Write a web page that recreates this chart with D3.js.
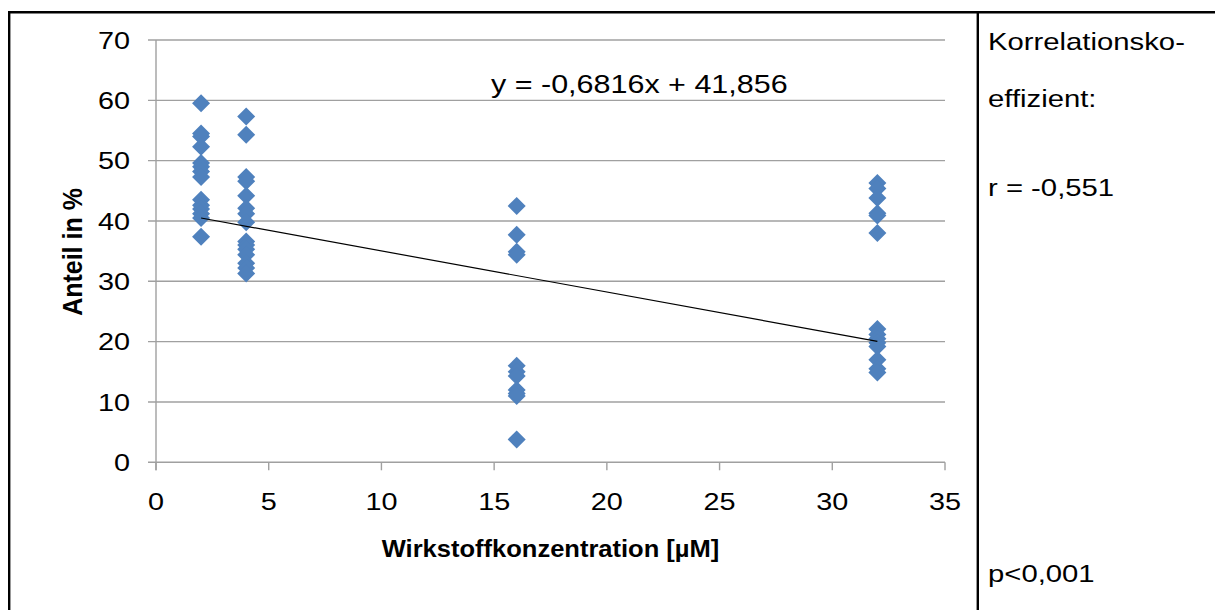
<!DOCTYPE html>
<html><head><meta charset="utf-8">
<script src="https://cdn.jsdelivr.net/npm/d3@7"></script>
<style>html,body{margin:0;padding:0;background:#fff;}svg{display:block;}</style>
</head><body>
<script>
// ---- data ----
const conc2  = [59.5, 54.5, 54.0, 52.3, 49.6, 49.0, 48.2, 47.3, 43.5, 42.6, 42.0, 41.2, 40.5, 37.4];
const conc4  = [57.3, 54.3, 47.3, 46.6, 44.2, 42.1, 41.2, 39.8, 36.6, 36.0, 35.3, 34.4, 33.0, 32.2, 31.3];
const conc16 = [42.5, 37.7, 34.9, 34.4, 16.0, 15.0, 14.3, 12.0, 11.4, 11.0, 3.8];
const conc32 = [46.3, 45.4, 43.8, 41.3, 40.9, 38.0, 22.1, 21.2, 20.5, 19.8, 19.2, 17.0, 15.5, 14.9];
const concentrations = [2, 4, 16, 32];
const xTicks = [0, 5, 10, 15, 20, 25, 30, 35];
const yTicks = [0, 10, 20, 30, 40, 50, 60, 70];
const slope = -0.6816, intercept = 41.856;
const equationLabel = "y = -0,6816x + 41,856";
const xTitle = "Wirkstoffkonzentration [µM]";
const yTitle = "Anteil in %";
const sideTexts = ["Korrelationsko-", "effizient:", "r = -0,551", "p<0,001"];

const W = 1215, H = 610;
const svg = d3.select("body").append("svg").attr("width", W).attr("height", H);
svg.append("rect").attr("width", W).attr("height", H).attr("fill", "#fff");

const x = d3.scaleLinear().domain([0, 35]).range([156, 945]);
const y = d3.scaleLinear().domain([0, 70]).range([462.3, 40]);
const FONT = "'Liberation Sans', Arial, Helvetica, sans-serif";

function txt(s, tx, ty, opts) {
  const o = Object.assign({size: 24, sx: 1.2, anchor: "start", weight: "normal", rot: 0}, opts || {});
  return svg.append("text")
    .attr("transform", `translate(${tx},${ty}) scale(${o.sx},1)` + (o.rot ? ` rotate(${o.rot})` : ""))
    .attr("text-anchor", o.anchor)
    .attr("font-family", FONT)
    .attr("font-size", o.size)
    .attr("font-weight", o.weight)
    .attr("fill", "#000")
    .text(s);
}

// gridlines (with left tick stubs)
const grid = svg.append("g").attr("stroke", "#a0a0a0").attr("stroke-width", 1.4);
yTicks.forEach(t => {
  grid.append("line").attr("x1", 148).attr("x2", x(35)).attr("y1", y(t)).attr("y2", y(t));
});
// y axis line
grid.append("line").attr("x1", x(0)).attr("x2", x(0)).attr("y1", y(70)).attr("y2", y(0) + 8);
// x ticks
xTicks.forEach(t => {
  grid.append("line").attr("x1", x(t)).attr("x2", x(t)).attr("y1", y(0)).attr("y2", y(0) + 8);
});

// tick labels
yTicks.forEach(t => txt(String(t), 130, y(t) + 8.6, {anchor: "end"}));
xTicks.forEach(t => txt(String(t), x(t), 510, {anchor: "middle"}));

// axis titles
txt(xTitle, x(17.5), 557, {anchor: "middle", weight: "bold", size: 23, sx: 1.11});
txt(yTitle, 81.5, 252, {anchor: "middle", weight: "bold", size: 25, sx: 1.1, rot: -90});

// points
const pts = [];
[conc2, conc4, conc16, conc32].forEach((arr, i) => arr.forEach(v => pts.push({c: concentrations[i], v})));
const sym = d3.symbol().type(d3.symbolSquare).size(162);
svg.append("g").selectAll("path").data(pts).join("path")
  .attr("d", sym)
  .attr("transform", d => `translate(${x(d.c)},${y(d.v)}) rotate(45)`)
  .attr("fill", "#4f81bd");

// trend line
const x0 = d3.min(concentrations), x1 = d3.max(concentrations);
svg.append("line")
  .attr("x1", x(x0)).attr("y1", y(slope * x0 + intercept))
  .attr("x2", x(x1)).attr("y2", y(slope * x1 + intercept))
  .attr("stroke", "#000").attr("stroke-width", 1.2);

// equation
txt(equationLabel, 491, 93, {size: 25, sx: 1.22});

// side panel texts
const sideY = [50, 107, 196, 582];
sideTexts.forEach((s, i) => txt(s, 988, sideY[i], {size: 24, sx: 1.22}));

// borders
const b = svg.append("g").attr("stroke", "#000").attr("stroke-width", 2.4);
b.append("line").attr("x1", 8).attr("x2", W).attr("y1", 12.3).attr("y2", 12.3);
b.append("line").attr("x1", 9.2).attr("x2", 9.2).attr("y1", 11).attr("y2", H);
b.append("line").attr("x1", 977.8).attr("x2", 977.8).attr("y1", 11).attr("y2", H);
</script>
</body></html>
